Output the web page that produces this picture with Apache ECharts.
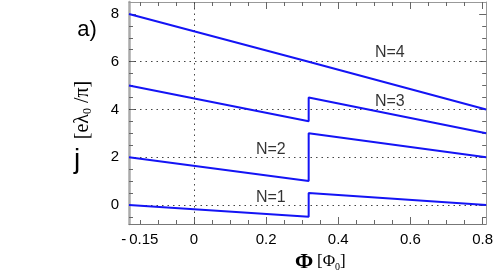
<!DOCTYPE html>
<html>
<head>
<meta charset="utf-8">
<script src="https://cdn.jsdelivr.net/npm/echarts@6/dist/echarts.min.js"></script>
<style>html,body{margin:0;padding:0;background:#fff}#c{width:496px;height:278px}</style>
</head>
<body>
<div id="c"></div>
<script>
// Data
const phiPoints = [-0.18, 0.318, 0.318, 0.81];
const jN1 = [0, -0.5, 0.5, 0];
const jN2 = [2, 1, 3, 2];
const jN3 = [5, 3.5, 4.5, 3];
const jN4 = [8, 6, 6, 4];
const labelText = ['N=1', 'N=2', 'N=3', 'N=4'];
const labelPhi = [0.213, 0.213, 0.543, 0.543];
const labelJ = [0.29, 2.3, 4.31, 6.4];
const xTickLabels = [-0.15, 0, 0.2, 0.4, 0.6, 0.8];
const xMajorTicks = [0, 0.2, 0.4, 0.6, 0.8];
const xMinorTicks = [-0.15, -0.1, -0.05, 0, 0.05, 0.1, 0.15, 0.2, 0.25, 0.3, 0.35, 0.4, 0.45, 0.5, 0.55, 0.6, 0.65, 0.7, 0.75, 0.8];
const yTickLabels = [0, 2, 4, 6, 8];
const yMinorTicks = [-0.5, 0, 0.5, 1, 1.5, 2, 2.5, 3, 3.5, 4, 4.5, 5, 5.5, 6, 6.5, 7, 7.5, 8];
const gridY = [0, 2, 4, 6];
const gridX = [0];

const X_MIN = -0.18, X_MAX = 0.81, Y_MIN = -0.8, Y_MAX = 8.5;
const LABEL_FONT = 'Liberation Sans';

function pairs(xs, ys) { return xs.map((x, i) => [x, ys[i]]); }

function xAxisCfg(pos, major, showLabel, showLine, lineColor, lineWidth) {
  return {
    type: 'value', position: pos, min: X_MIN, max: X_MAX,
    splitLine: { show: false },
    axisLine: { show: showLine, onZero: false, lineStyle: { color: lineColor, width: lineWidth } },
    axisTick: { show: true, inside: true, length: major ? 7 : 4, customValues: major ? xMajorTicks : xMinorTicks, lineStyle: { color: '#666', width: 1 } },
    axisLabel: {
      show: showLabel, customValues: xTickLabels, margin: 8,
      fontFamily: LABEL_FONT, fontSize: 15, color: '#000',
      formatter: v => (Math.abs(v + 0.15) < 1e-9 ? '-\u20090.15' : String(Math.round(v * 100) / 100))
    }
  };
}
function yAxisCfg(pos, major, showLabel, showLine, lineColor, lineWidth) {
  return {
    type: 'value', position: pos, min: Y_MIN, max: Y_MAX,
    splitLine: { show: false },
    axisLine: { show: showLine, onZero: false, lineStyle: { color: lineColor, width: lineWidth } },
    axisTick: { show: true, inside: true, length: major ? 7 : 4, customValues: major ? yTickLabels : yMinorTicks, lineStyle: { color: '#666', width: 1 } },
    axisLabel: {
      show: showLabel, customValues: yTickLabels, margin: 10,
      fontFamily: LABEL_FONT, fontSize: 15, color: '#000'
    }
  };
}

const lineStyle = { color: '#1414f5', width: 2 };
function lineSeries(name, ys) {
  return {
    name, type: 'line', data: pairs(phiPoints, ys), showSymbol: false, symbol: 'none',
    lineStyle, xAxisIndex: 0, yAxisIndex: 0, animation: false, z: 5
  };
}

const chart = echarts.init(document.getElementById('c'), null, { renderer: 'canvas' });
chart.setOption({
  animation: false,
  grid: { left: 129, right: 7, top: 2, bottom: 54, containLabel: false },
  xAxis: [
    xAxisCfg('bottom', true, true, true, '#777', 1),
    xAxisCfg('bottom', false, false, false, '#777', 1),
    xAxisCfg('top', true, false, true, '#999', 1),
    xAxisCfg('top', false, false, false, '#999', 1)
  ],
  yAxis: [
    yAxisCfg('left', true, true, true, '#aaa', 2.5),
    yAxisCfg('left', false, false, false, '#aaa', 1),
    yAxisCfg('right', true, false, true, '#999', 1),
    yAxisCfg('right', false, false, false, '#999', 1)
  ],
  series: [
    {
      type: 'line', data: [], xAxisIndex: 0, yAxisIndex: 0, animation: false,
      markLine: {
        silent: true, symbol: ['none', 'none'], label: { show: false },
        lineStyle: { color: '#444', type: [1.5, 4], width: 1 },
        data: gridY.map(v => ({ yAxis: v })).concat(gridX.map(v => ({ xAxis: v })))
      }
    },
    lineSeries('N=1', jN1),
    lineSeries('N=2', jN2),
    lineSeries('N=3', jN3),
    lineSeries('N=4', jN4),
    {
      type: 'scatter', symbolSize: 0, xAxisIndex: 0, yAxisIndex: 0, animation: false, z: 6,
      data: labelText.map((t, i) => ({ value: [labelPhi[i], labelJ[i]], name: t })),
      label: {
        show: true, position: 'inside', formatter: p => p.name,
        fontFamily: LABEL_FONT, fontSize: 16, color: '#000'
      }
    }
  ],
  graphic: [
    { type: 'text', x: 87, y: 30, style: { text: 'a)', fontFamily: LABEL_FONT, fontSize: 22, fill: '#000', align: 'center', verticalAlign: 'middle' } },
    { type: 'text', x: 77, y: 160, style: { text: 'j', fontFamily: LABEL_FONT, fontSize: 28, fill: '#000', align: 'center', verticalAlign: 'middle' } },
    {
      type: 'text', x: 83, y: 110, rotation: Math.PI / 2,
      style: {
        text: '[e\u03bb{s|0} /\u03c0]', fontFamily: 'Liberation Serif', fontSize: 20, fill: '#000',
        align: 'center', verticalAlign: 'middle',
        rich: { s: { fontFamily: 'Liberation Serif', fontSize: 12, fill: '#000', padding: [10, 0, 0, 0] } }
      }
    },
    { type: 'text', x: 304, y: 262, style: { text: '\u03a6', fontFamily: 'Liberation Serif', fontSize: 22, fontWeight: 'bold', fill: '#000', align: 'center', verticalAlign: 'middle' } },
    {
      type: 'text', x: 317, y: 262,
      style: {
        text: '[\u03a6{s|0}]', fontFamily: 'Liberation Serif', fontSize: 17, fill: '#000',
        align: 'left', verticalAlign: 'middle',
        rich: { s: { fontFamily: 'Liberation Serif', fontSize: 10, fill: '#000', padding: [10, 0, 0, 0] } }
      }
    }
  ]
});
</script>
</body>
</html>
